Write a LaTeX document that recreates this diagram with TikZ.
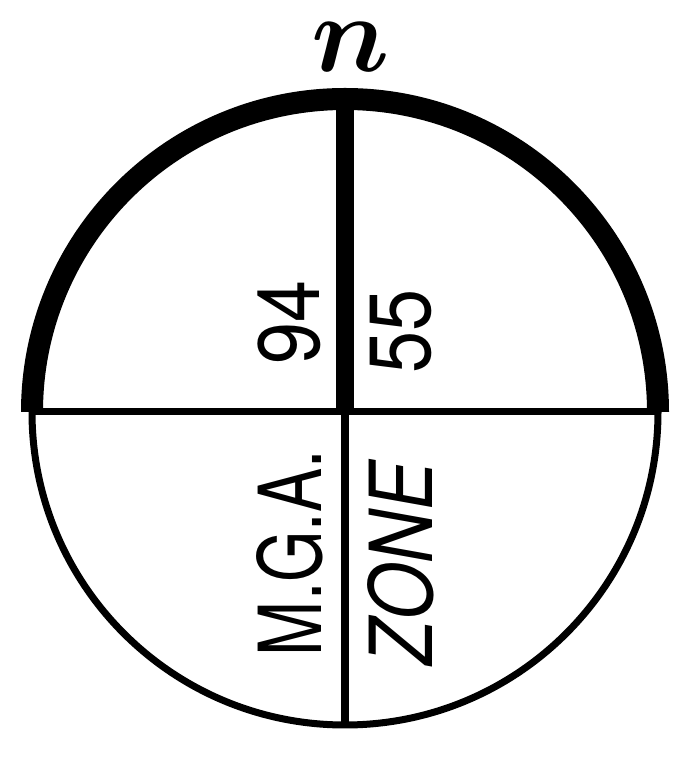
\documentclass[tikz,border=0pt]{standalone}
\usepackage{fontspec}
\setmainfont{TeX Gyre Heros}
\usepackage{graphicx}
\usepackage{bm}
\begin{document}
\begin{tikzpicture}[x=1pt,y=1pt,
  thickline/.style={line width=22pt,line cap=butt},
  thinline/.style={line width=7pt},
  vtext/.style={rotate=90,inner sep=0pt,font=\fontsize{87}{87}\selectfont}]
\useasboundingbox (0,0) rectangle (687,763);
\coordinate (L) at (32,351);
\coordinate (R) at (658,351);
\coordinate (T) at (345,661);
\coordinate (B) at (345,36);
\coordinate (M) at (345,351);
% upper thick arc
\draw[thickline] (L) arc[start angle=180,end angle=0,radius=313];
% lower thin arc
\draw[thinline] (L) arc[start angle=180,end angle=360,radius=313];
% horizontal line
\draw[thinline] (L) -- (R);
% vertical lines
\draw[line width=18pt] (M) -- (T);
\draw[line width=8pt] (M) -- (B);
% labels
\node[vtext] (t94) at (289,440.5) {\scalebox{0.87}[1]{94}};
\node[vtext] (t55) at (401,431.5) {\scalebox{0.87}[1]{55}};
\node[vtext] (tmga) at (290,210) {\scalebox{0.76}[1]{M.G.A.}};
\node[vtext] (tzone) at (401,199.5) {\scalebox{0.84}[1]{\itshape ZONE}};
\node[inner sep=0pt] (tn) at (351,716) {\scalebox{11}{$\bm{n}$}};
\end{tikzpicture}
\end{document}
